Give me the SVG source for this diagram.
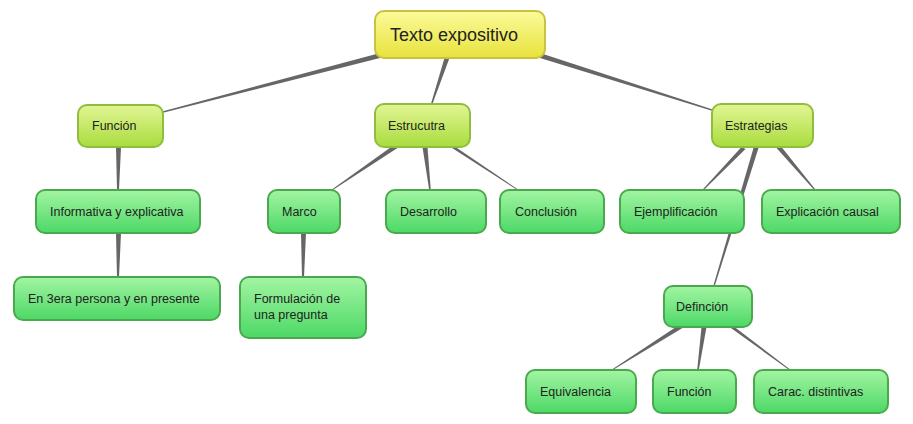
<svg xmlns="http://www.w3.org/2000/svg" width="913" height="424" viewBox="0 0 913 424">
<defs>
<linearGradient id="gy" x1="0" y1="0" x2="0" y2="1"><stop offset="0" stop-color="#fbfb9a"/><stop offset="1" stop-color="#e8e23c"/></linearGradient>
<linearGradient id="gl" x1="0" y1="0" x2="0" y2="1"><stop offset="0" stop-color="#e2f594"/><stop offset="1" stop-color="#a9dc3e"/></linearGradient>
<linearGradient id="gg" x1="0" y1="0" x2="0" y2="1"><stop offset="0" stop-color="#a2f5a2"/><stop offset="1" stop-color="#4dd866"/></linearGradient>
</defs>
<style>
.y{fill:url(#gy);stroke:#c9c23e;stroke-width:2}
.l{fill:url(#gl);stroke:#8fbd3d;stroke-width:2}
.g{fill:url(#gg);stroke:#4aa94f;stroke-width:2}
text{font-family:"Liberation Sans",Arial,sans-serif;font-size:12.5px;fill:#222}
.c{fill:#666}
</style>
<g id="connectors">
<path class="c" d="M380 53 L380 58 L163 112.8 L163 111.2 Z"/>
<path class="c" d="M444.5 58 L449.5 58 L432.8 103 L431.2 103 Z"/>
<path class="c" d="M540 53 L540 58 L712 110.8 L712 109.2 Z"/>
<path class="c" d="M116 147 L121 147 L119 190 L117 190 Z"/>
<path class="c" d="M116 233 L121 233 L119 277 L117 277 Z"/>
<path class="c" d="M301 233 L306 233 L304 277 L302 277 Z"/>
<path class="c" d="M392.5 146 L397.5 148 L332.8 190 L331.2 190 Z"/>
<path class="c" d="M422.5 147 L427.5 147 L430.8 190 L429.2 190 Z"/>
<path class="c" d="M450.5 147 L455.5 147 L518.8 190 L517.2 190 Z"/>
<path class="c" d="M741.5 147 L745.5 149 L703.8 190 L702.2 190 Z"/>
<path class="c" d="M753.5 148 L758.5 148 L714.7 286 L713.3 286 Z"/>
<path class="c" d="M776.5 148 L781.5 147 L815.8 190 L814.2 190 Z"/>
<path class="c" d="M677.5 326 L682.5 328 L612.8 370 L611.2 370 Z"/>
<path class="c" d="M701.5 327 L706.5 327 L698.8 370 L697.2 370 Z"/>
<path class="c" d="M729.5 327 L734.5 327 L790.8 370 L789.2 370 Z"/>
</g>
<g id="n-texto"><rect class="y" x="375" y="11" width="170" height="47" rx="9"/><text x="390" y="41" style="font-size:18px">Texto expositivo</text></g>
<g id="n-funcion"><rect class="l" x="78" y="105" width="85" height="42" rx="9"/><text x="92" y="130">Función</text></g>
<g id="n-estructura"><rect class="l" x="375" y="104" width="95" height="43" rx="9"/><text x="388" y="130">Estrucutra</text></g>
<g id="n-estrategias"><rect class="l" x="712" y="104" width="101" height="43" rx="9"/><text x="725" y="130">Estrategias</text></g>
<g id="n-informativa"><rect class="g" x="36" y="190" width="164" height="43" rx="9"/><text x="50" y="216">Informativa y explicativa</text></g>
<g id="n-3era"><rect class="g" x="14" y="277" width="206" height="43" rx="9"/><text x="28" y="303">En 3era persona y en presente</text></g>
<g id="n-marco"><rect class="g" x="268" y="190" width="72" height="43" rx="9"/><text x="282" y="216">Marco</text></g>
<g id="n-formulacion"><rect class="g" x="240" y="277" width="126" height="61" rx="9"/><text x="254" y="303">Formulación de</text><text x="254" y="319">una pregunta</text></g>
<g id="n-desarrollo"><rect class="g" x="386" y="190" width="100" height="43" rx="9"/><text x="400" y="216">Desarrollo</text></g>
<g id="n-conclusion"><rect class="g" x="500" y="190" width="104" height="43" rx="9"/><text x="515" y="216">Conclusión</text></g>
<g id="n-ejemplificacion"><rect class="g" x="620" y="190" width="124" height="43" rx="9"/><text x="634" y="216">Ejemplificación</text></g>
<g id="n-explicacion"><rect class="g" x="762" y="190" width="138" height="43" rx="9"/><text x="776" y="216">Explicación causal</text></g>
<g id="n-definicion"><rect class="g" x="664" y="286" width="88" height="41" rx="9"/><text x="676" y="311">Definción</text></g>
<g id="n-equivalencia"><rect class="g" x="526" y="370" width="110" height="43" rx="9"/><text x="540" y="396">Equivalencia</text></g>
<g id="n-funcion2"><rect class="g" x="653" y="370" width="83" height="43" rx="9"/><text x="667" y="396">Función</text></g>
<g id="n-carac"><rect class="g" x="754" y="370" width="134" height="43" rx="9"/><text x="768" y="396">Carac. distintivas</text></g>
</svg>
